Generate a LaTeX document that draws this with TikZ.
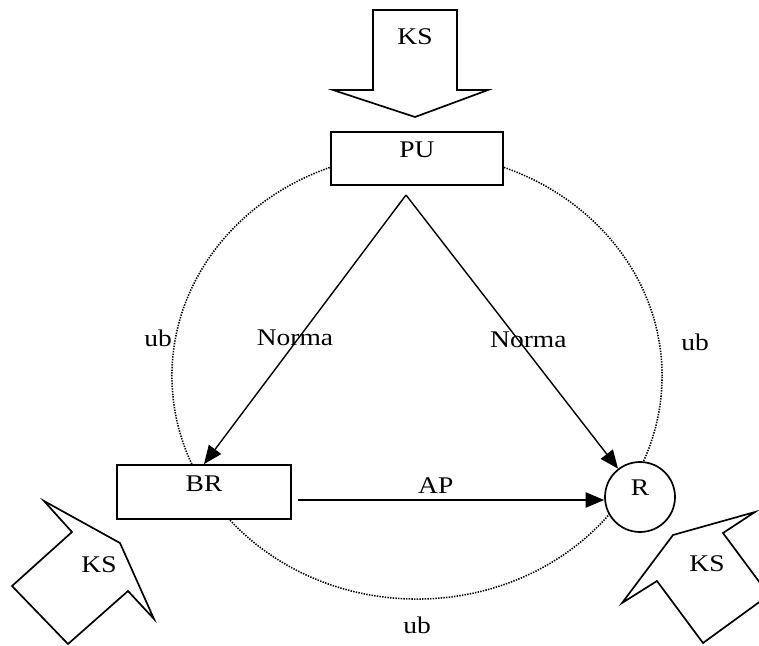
\documentclass[tikz,border=0pt]{standalone}
\usepackage{fontspec}
\setmainfont[FakeStretch=1.15]{Liberation Serif}
\usetikzlibrary{arrows.meta}
\tikzset{
    plain-box/.style = {draw, fill=white, line width=1.3pt, rectangle, inner sep=0pt, text height=0.63cm, text depth=0.7cm},
    round-box/.style = {draw, fill=white, line width=1.2pt, circle, inner sep=0pt, minimum size=1.75cm, text height=0.3cm, text depth=0.4cm},
    ub-ring/.style = {line width=1.1pt, dash pattern=on 1pt off 0.9pt},
    ks-arrow/.style = {draw, fill=white, line width=1.2pt, line join=miter},
    flow/.style = {-{Triangle[length=0.46cm, width=0.38cm]}, line width=1pt},
}

\begin{document}
\begin{tikzpicture}[x=0.025cm, y=-0.025cm, font=\fontsize{17}{20}\selectfont]
\useasboundingbox (0,0) rectangle (759,646);
\draw[ub-ring] (417,376) ellipse [x radius=6.125cm, y radius=5.575cm];

\draw[ks-arrow] (373,10) -- (457,10) -- (457,90) -- (488,90) -- (415,117) -- (333,90) -- (373,90) -- cycle;
\draw[ks-arrow] (72,532) -- (44,501) -- (120,543) -- (154,619) -- (128,591) -- (68,644) -- (12,586) -- cycle;
\draw[ks-arrow] (723,533) -- (755,512) -- (673,535) -- (622,603) -- (657,581) -- (703,643) -- (769,595) -- cycle;
\node (ks-top) at (415,37) {KS};
\node (ks-left) at (99,565) {KS};
\node (ks-right) at (707,564) {KS};

\node[plain-box, minimum width=4.3cm] (pu) at (417,158.5) {PU};
\node[plain-box, minimum width=4.35cm, text height=0.65cm] (br) at (204,492) {BR};
\node[round-box] (r) at (640,497) {R};
\coordinate (apex) at (406,195);
\coordinate (ap-start) at ([shift={(6,8)}]br.east);

\draw[flow] (apex) -- node[pos=0.53, xshift=-0.1cm] {Norma} (br.north);
\draw[flow] (apex) -- node[pos=0.53, xshift=0.25cm] {Norma} (r);
\draw[flow] (ap-start) -- node[pos=0.45, above=1pt] {AP} (ap-start -| r.west);

\node (ub-left) at (158,338) {ub};
\node (ub-right) at (695,342) {ub};
\node (ub-bottom) at (417,625) {ub};
\end{tikzpicture}
\end{document}
